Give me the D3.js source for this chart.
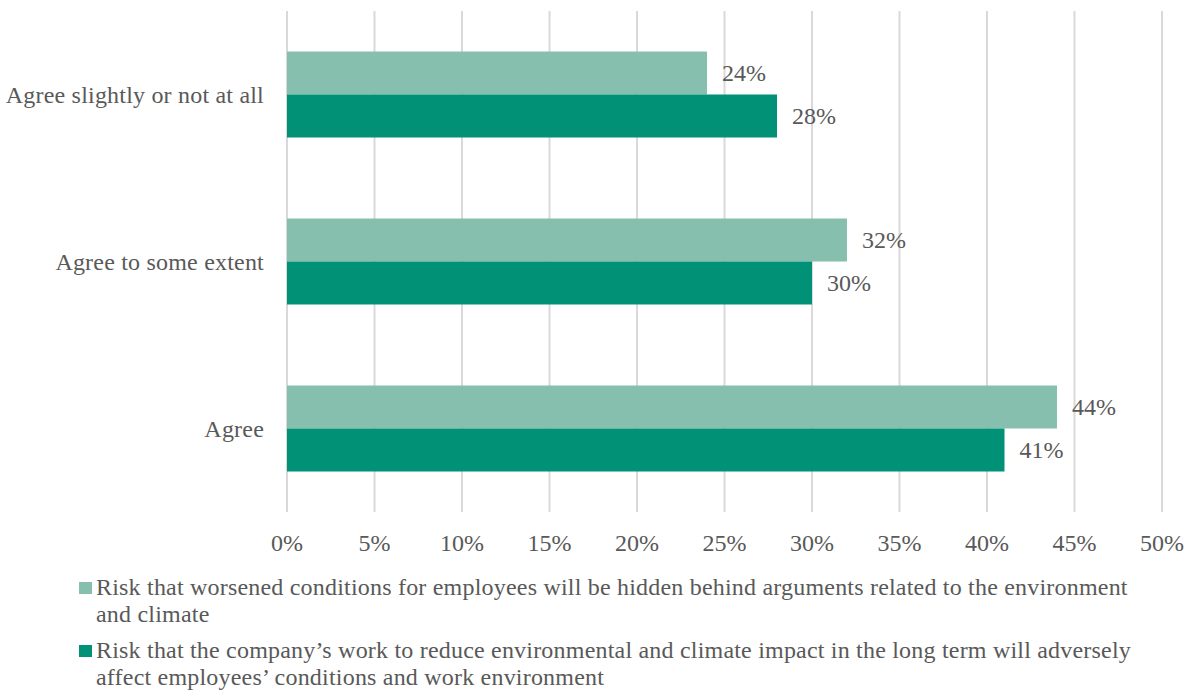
<!DOCTYPE html>
<html>
<head>
<meta charset="utf-8">
<script src="https://cdn.jsdelivr.net/npm/d3@7"></script>
<style>
  body { margin: 0; background: #fff; }
  text { font-family: "Liberation Serif", "DejaVu Serif", serif; fill: #595959; }
</style>
</head>
<body>
<svg id="chart" width="1189" height="693"></svg>
<script>
// chart data
var categories = ["Agree slightly or not at all", "Agree to some extent", "Agree"];
var seriesNames = [
  ["Risk that worsened conditions for employees will be hidden behind arguments related to the environment", "and climate"],
  ["Risk that the company\u2019s work to reduce environmental and climate impact in the long term will adversely", "affect employees\u2019 conditions and work environment"]
];
var hiddenValues = [24, 32, 44];
var adverseValues = [28, 30, 41];
var tickValues = [0, 5, 10, 15, 20, 25, 30, 35, 40, 45, 50];
var colors = ["#86bfad", "#009176"];

var svg = d3.select("#chart");

var x = d3.scaleLinear().domain([0, 50]).range([287, 1162]);
var y = d3.scaleBand().domain(categories).range([11, 512]);
var inner = d3.scaleBand().domain([0, 1]).range([0, y.bandwidth()]).paddingInner(0).paddingOuter(0.942);

// gridlines
svg.append("g").selectAll("line")
  .data(tickValues)
  .enter().append("line")
  .attr("x1", function(d) { return x(d); })
  .attr("x2", function(d) { return x(d); })
  .attr("y1", 11)
  .attr("y2", 512)
  .attr("stroke", "#d9d9d9")
  .attr("stroke-width", 2);

// tick labels
svg.append("g").selectAll("text")
  .data(tickValues)
  .enter().append("text")
  .attr("x", function(d) { return x(d); })
  .attr("y", 551)
  .attr("text-anchor", "middle")
  .style("font-size", "24px")
  .text(function(d) { return d + "%"; });

// category labels
svg.append("g").selectAll("text")
  .data(categories)
  .enter().append("text")
  .attr("x", 264)
  .attr("y", function(d) { return y(d) + y.bandwidth() / 2; })
  .attr("dy", "0.35em")
  .attr("text-anchor", "end")
  .style("font-size", "24px")
  .style("letter-spacing", "0.2px")
  .text(function(d) { return d; });

var rows = [];
categories.forEach(function(c, i) {
  rows.push({ cat: c, s: 0, v: hiddenValues[i] });
  rows.push({ cat: c, s: 1, v: adverseValues[i] });
});

svg.append("g").selectAll("rect")
  .data(rows)
  .enter().append("rect")
  .attr("x", x(0))
  .attr("y", function(d) { return y(d.cat) + inner(d.s); })
  .attr("width", function(d) { return x(d.v) - x(0); })
  .attr("height", inner.bandwidth())
  .attr("fill", function(d) { return colors[d.s]; });

svg.append("g").selectAll("text")
  .data(rows)
  .enter().append("text")
  .attr("x", function(d) { return x(d.v) + 15; })
  .attr("y", function(d) { return y(d.cat) + inner(d.s) + inner.bandwidth() / 2; })
  .attr("dy", "0.35em")
  .style("font-size", "24px")
  .text(function(d) { return d.v + "%"; });

// legend
var legend = svg.append("g").selectAll("g")
  .data(seriesNames)
  .enter().append("g")
  .attr("transform", function(d, i) { return "translate(79," + (582 + i * 63) + ")"; });

legend.append("rect")
  .attr("width", 13)
  .attr("height", 12)
  .attr("fill", function(d, i) { return colors[i]; });

legend.append("text")
  .style("font-size", "24px")
  .style("letter-spacing", "0.2px")
  .selectAll("tspan")
  .data(function(d) { return d; })
  .enter().append("tspan")
  .attr("x", 17)
  .attr("y", function(d, i) { return 13 + i * 27; })
  .text(function(d) { return d; });
</script>
</body>
</html>
